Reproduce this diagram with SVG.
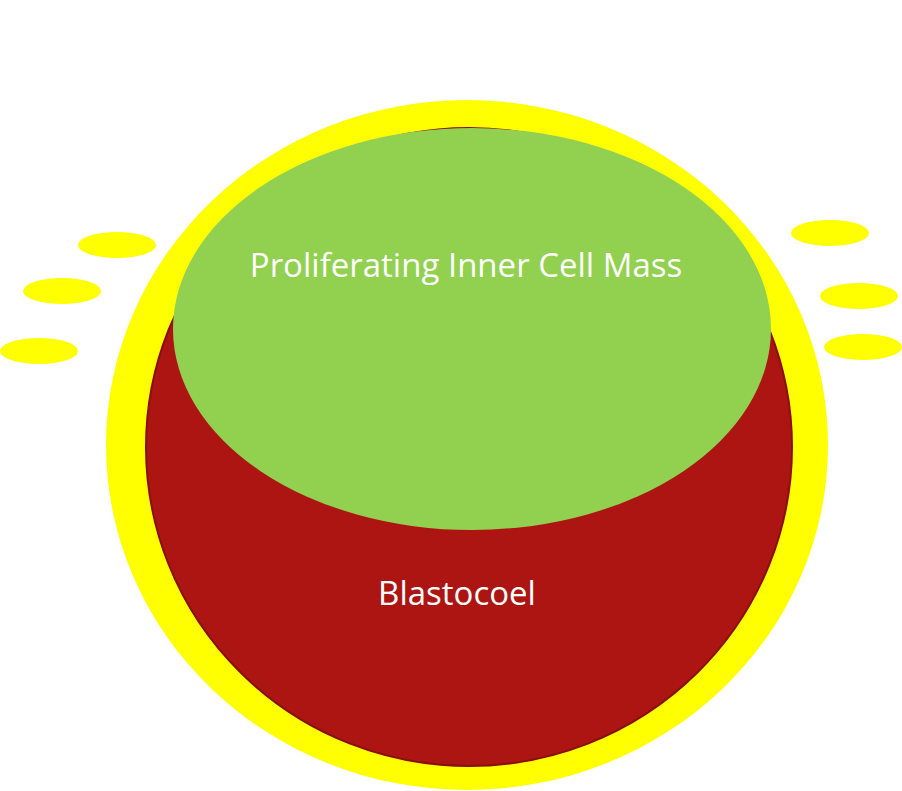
<svg xmlns="http://www.w3.org/2000/svg" width="902" height="791" viewBox="0 0 902 791">
<style>
.dot{fill:#ffff00}
.lbl{fill:#ffffff;font-family:"Open Sans","Liberation Sans",sans-serif;font-size:33px;text-anchor:middle}
</style>
<rect width="902" height="791" fill="#ffffff"/>
<g id="outer"><ellipse cx="467" cy="445" rx="361" ry="345" fill="#ffff00"/></g>
<g id="blastocoel">
<ellipse cx="469" cy="447" rx="323" ry="319" fill="#ad1513" stroke="#8a0e0c" stroke-width="2"/>
<text class="lbl" x="457" y="605">Blastocoel</text>
</g>
<g id="icm">
<ellipse cx="472" cy="329" rx="299" ry="201" fill="#92d050"/>
<text class="lbl" x="466" y="277">Proliferating Inner Cell Mass</text>
</g>
<g id="cells">
<ellipse class="dot" cx="117" cy="245" rx="39" ry="13"/>
<ellipse class="dot" cx="62" cy="291" rx="39" ry="13"/>
<ellipse class="dot" cx="39" cy="351" rx="39" ry="13"/>
<ellipse class="dot" cx="830" cy="233" rx="39" ry="13"/>
<ellipse class="dot" cx="859" cy="296" rx="39" ry="13"/>
<ellipse class="dot" cx="863" cy="347" rx="39" ry="13"/>
</g>
<g id="connectors"/>
</svg>
